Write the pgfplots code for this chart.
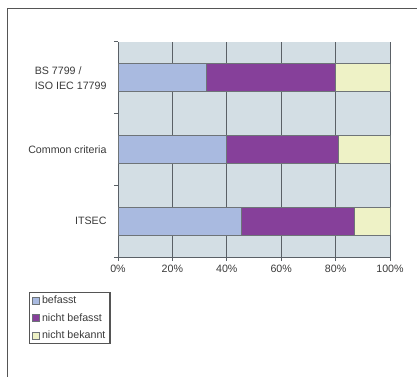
\documentclass[border=0pt]{standalone}
\usepackage{pgfplots}
\pgfplotsset{compat=1.18}
\usepackage{fontspec}
\setmainfont{Liberation Sans}

\definecolor{befasst}{HTML}{A9BAE0}
\definecolor{nichtbefasst}{HTML}{86409A}
\definecolor{nichtbekannt}{HTML}{EEF2C6}
\definecolor{plotbg}{HTML}{D3DEE4}
\definecolor{gridgray}{HTML}{5A6066}
\definecolor{framegray}{HTML}{555555}
\definecolor{bardraw}{HTML}{6E7478}
\definecolor{labelgray}{HTML}{3A3A3A}

\begin{document}
\begin{tikzpicture}
\useasboundingbox (0,0) rectangle (417bp,377bp);
% outer frame of the figure
\draw[line width=1.3bp, framegray] (7.5bp,0) -- (7.5bp,368.5bp) -- (417bp,368.5bp);
\begin{axis}[
  at={(118bp,120bp)}, anchor=south west,
  scale only axis, width=272bp, height=215bp,
  xbar stacked, bar width=28bp,
  xmin=0, xmax=100, ymin=-0.5, ymax=2.5,
  axis lines*=left,
  axis line style={gridgray, line width=1bp},
  axis background/.style={fill=plotbg},
  xtick={0,20,40,60,80,100},
  xticklabel={\pgfmathprintnumber{\tick}\%},
  /pgf/number format/assume math mode=true,
  xmajorgrids, grid style={gridgray, line width=1bp},
  ytick={-0.5,0.5,1.5,2.5}, yticklabels={,,,},
  extra y ticks={0,1,2},
  extra y tick labels={ITSEC, Common criteria, {BS 7799 /\\ISO IEC 17799}},
  extra y tick style={tick style={draw=none}},
  yticklabel style={align=left, font=\fontsize{10.7}{15}\selectfont, xshift=-4bp, text=labelgray},
  xticklabel style={font=\fontsize{10.7}{13}\selectfont, yshift=-1bp, text=labelgray},
  tick align=outside, major tick length=4bp,
  tick style={gridgray, line width=1bp},
  legend style={at={(-0.327,-0.163)}, anchor=north west,
    draw=framegray, line width=1.3bp,
    font=\fontsize{10.7}{12}\selectfont, text=labelgray,
    row sep=6.2bp, inner xsep=2.5bp, inner ysep=2.5bp,
    nodes={inner xsep=2bp, inner ysep=1bp}},
  legend cell align=left,
  legend image code/.code={\draw[#1, line width=0.8bp] (0bp,-3.5bp) rectangle (7bp,3.5bp);},
]
\addplot[fill=befasst, draw=bardraw, line width=0.8bp] coordinates {(45.5,0) (40,1) (32.5,2)};
\addplot[fill=nichtbefasst, draw=bardraw, line width=0.8bp] coordinates {(41.5,0) (41,1) (47.5,2)};
\addplot[fill=nichtbekannt, draw=bardraw, line width=0.8bp] coordinates {(13,0) (19,1) (20,2)};
\legend{befasst, nicht befasst, nicht bekannt}
\end{axis}
\end{tikzpicture}
\end{document}
